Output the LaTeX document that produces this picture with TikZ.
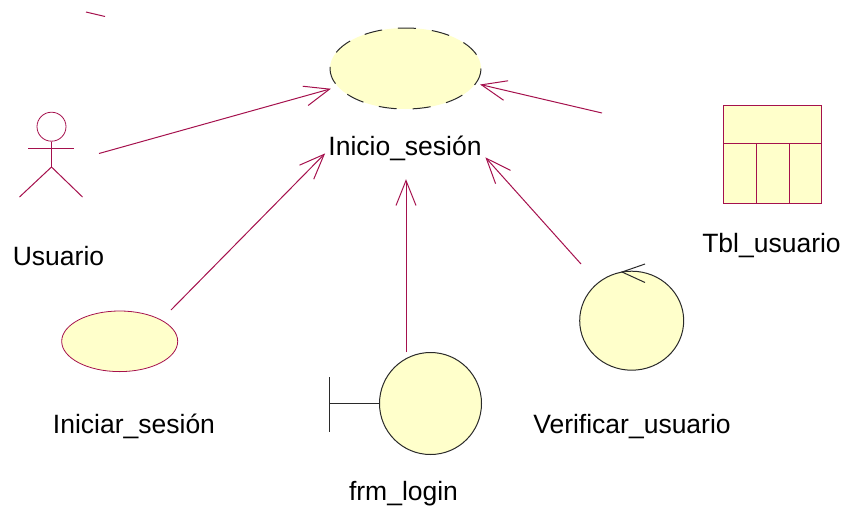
\documentclass[tikz,border=0pt]{standalone}
\usepackage{fontspec}
\setmainfont{Liberation Sans}
\usetikzlibrary{shapes.geometric}
\definecolor{umlline}{HTML}{A5114D}
\definecolor{umlfill}{HTML}{FFFFCB}
\definecolor{umlink}{HTML}{2A2A2A}
\pgfarrowsdeclare{openvee}{openvee}{\pgfarrowsleftextend{-25pt}\pgfarrowsrightextend{0.5pt}}{%
  \pgfsetdash{}{0pt}\pgfsetmiterjoin
  \pgfpathmoveto{\pgfpoint{-25pt}{10pt}}%
  \pgfpathlineto{\pgfpointorigin}%
  \pgfpathlineto{\pgfpoint{-25pt}{-10pt}}%
  \pgfusepathqstroke}
\tikzset{
  x=1pt,y=-1pt,
  conn/.style={draw=umlline,line width=1pt,-openvee},
  bodyline/.style={draw=umlline,line width=1pt},
  inkline/.style={draw=umlink,line width=1pt},
  lbl/.style={font=\fontsize{26.5}{30}\selectfont,text=black,inner sep=0pt,anchor=base},
}
\begin{document}
\begin{tikzpicture}
\useasboundingbox (0,0) rectangle (843,506);
% stray stub
\coordinate (s1) at (86,12); \coordinate (s2) at (105,16.5);
\draw[bodyline] (s1) -- (s2);
% collaboration
\node[ellipse,draw=none,fill=umlfill,minimum width=151pt,minimum height=81pt,inner sep=0pt] (main) at (405.5,68.5) {};
\draw[inkline,dash pattern=on 18pt off 16pt] (405.5,68.5) ellipse [x radius=75.5,y radius=40.5];
\node[lbl] (mainl) at (405,155) {Inicio\_sesión};
% actor
\node[circle,draw=umlline,line width=.8pt,minimum size=29pt,inner sep=0pt] (head) at (51.5,126.7) {};
\coordinate (hip) at (51.5,167);
\draw[bodyline] (head.south) -- (hip);
\coordinate (armL) at (28,148); \coordinate (armR) at (74,148);
\draw[bodyline] (armL) -- (armR);
\coordinate (legL) at (19.5,197); \coordinate (legR) at (82.5,197);
\draw[bodyline] (legL) -- (hip) -- (legR);
\node[lbl] (usuario) at (58.5,265) {Usuario};
% use case
\node[ellipse,draw=umlline,line width=.8pt,fill=umlfill,minimum width=116pt,minimum height=60.6pt,inner sep=0pt] (uc) at (119.7,341.3) {};
\node[lbl] (ucl) at (134,433) {Iniciar\_sesión};
% boundary
\node[circle,draw=umlink,line width=1pt,fill=umlfill,minimum size=102pt,inner sep=0pt] (bnd) at (430.5,403.5) {};
\coordinate (bt) at (329.5,377); \coordinate (bb) at (329.5,431.5); \coordinate (bm) at (329.5,403.5);
\draw[inkline] (bt) -- (bb);
\draw[inkline] (bm) -- (bnd.west);
\node[lbl] (bndl) at (403.5,500) {frm\_login};
% control
\node[ellipse,draw=umlink,line width=1pt,fill=umlfill,minimum width=104pt,minimum height=99pt,inner sep=0pt] (ctl) at (631.7,320.7) {};
\coordinate (ctip) at (622,272); \coordinate (ca) at (645,264); \coordinate (cb) at (645,282.5);
\draw[inkline] (ca) -- (ctip) -- (cb);
\node[lbl] (ctll) at (632,433) {Verificar\_usuario};
% table
\node[rectangle,draw=umlline,line width=1pt,fill=umlfill,minimum width=98.5pt,minimum height=97.5pt,inner sep=0pt] (tbl) at (772.5,154.7) {};
\coordinate (d1) at (723.3,143); \coordinate (d2) at (821.7,143);
\draw[bodyline] (d1) -- (d2);
\coordinate (v1) at (756.5,143); \coordinate (v1b) at (756.5,203.5);
\coordinate (v2) at (789.5,143); \coordinate (v2b) at (789.5,203.5);
\draw[bodyline] (v1) -- (v1b);
\draw[bodyline] (v2) -- (v2b);
\node[lbl] (tbll) at (771.5,252) {Tbl\_usuario};
% connectors
\coordinate (e1) at (99,153.5); \coordinate (t1) at (330,89);
\coordinate (e2) at (602,113); \coordinate (t2) at (481,84.7);
\coordinate (e3) at (171,310); \coordinate (t3) at (324.5,154);
\coordinate (e4) at (406,352); \coordinate (t4) at (406,180);
\coordinate (e5) at (581,264); \coordinate (t5) at (486,158);
\draw[conn] (e1) -- (t1);
\draw[conn] (e2) -- (t2);
\draw[conn] (e3) -- (t3);
\draw[conn] (e4) -- (t4);
\draw[conn] (e5) -- (t5);
\end{tikzpicture}
\end{document}
